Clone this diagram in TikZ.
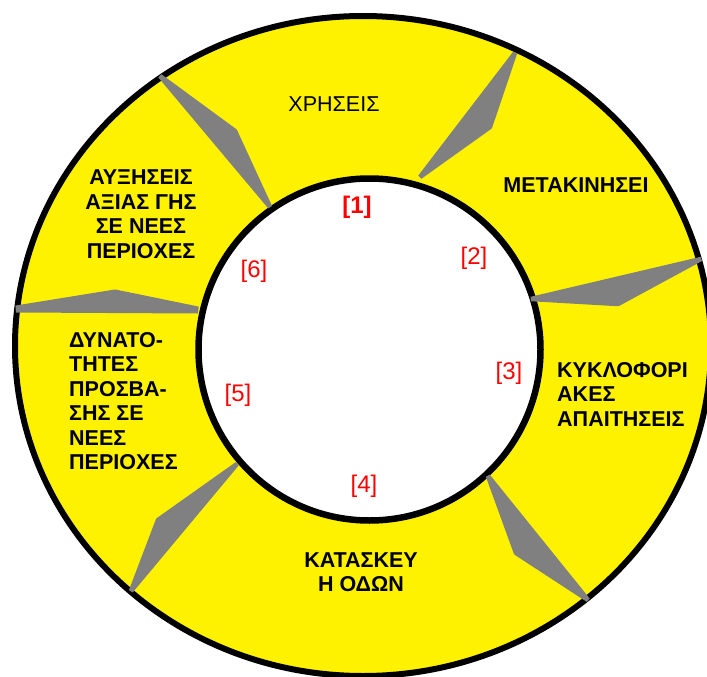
\documentclass[tikz,border=0pt]{standalone}
\usepackage{fontspec}
\setmainfont{Liberation Sans}
\usepackage{xcolor}
\usetikzlibrary{positioning}

\begin{document}
\begin{tikzpicture}[x=1pt, y=-1pt,
  spoke/.style={fill=gray, draw=gray, line width=4.5pt, line join=bevel},
  stage/.style={font=\fontsize{21.5}{24.5}\selectfont\bfseries, inner sep=0pt},
  tag/.style={text=red, font=\fontsize{24}{28}\selectfont, inner sep=0pt}]
\useasboundingbox (0,0) rectangle (707,677);
\clip (0,0) rectangle (707,677);
% the ring
\fill[yellow, even odd rule] (363,346) ellipse [x radius=348pt, y radius=330pt]
  (369.5,349.5) circle [radius=171pt];
\draw[line width=6pt] (363,346) ellipse [x radius=348pt, y radius=330pt];
\draw[line width=6.5pt] (369.5,349.5) circle [radius=171pt];
% separators between the stages
\filldraw[spoke] (160,76) -- (235,131) -- (270,207) -- cycle;
\filldraw[spoke] (515,53) -- (490,127) -- (420,177) -- cycle;
\filldraw[spoke] (701,259) -- (618,304) -- (531,299) -- cycle;
\filldraw[spoke] (488,476) -- (516,553) -- (588,600) -- cycle;
\filldraw[spoke] (237,464) -- (158,520) -- (131,591) -- cycle;
\filldraw[spoke, line width=7pt] (16,309) -- (115,293) -- (198,310) -- cycle;
% stages
\node[font=\fontsize{21.5}{24.5}\selectfont, inner sep=0pt] (uses) at (334,104) {ΧΡΗΣΕΙΣ};
\node[stage] (moves) at (576,185) {ΜΕΤΑΚΙΝΗΣΕΙ};
\node[stage, align=left, anchor=west] (traffic) at (557,394) {ΚΥΚΛΟΦΟΡΙ\\ΑΚΕΣ\\ΑΠΑΙΤΗΣΕΙΣ};
\node[stage, align=center] (roads) at (361,572) {ΚΑΤΑΣΚΕΥ\\Η ΟΔΩΝ};
\node[stage, align=left, anchor=west] (access) at (69,401) {ΔΥΝΑΤΟ-\\ΤΗΤΕΣ\\ΠΡΟΣΒΑ-\\ΣΗΣ ΣΕ\\ΝΕΕΣ\\ΠΕΡΙΟΧΕΣ};
\node[stage, align=center] (values) at (141,214) {ΑΥΞΗΣΕΙΣ\\ΑΞΙΑΣ ΓΗΣ\\ΣΕ ΝΕΕΣ\\ΠΕΡΙΟΧΕΣ};
% step numbers
\node[tag, font=\fontsize{24}{28}\selectfont\bfseries] (n1) at (357,207) {[1]};
\node[tag] (n2) at (474,258) {[2]};
\node[tag] (n3) at (509,373) {[3]};
\node[tag] (n4) at (364,486) {[4]};
\node[tag] (n5) at (238,395) {[5]};
\node[tag] (n6) at (254,271) {[6]};
\end{tikzpicture}
\end{document}
